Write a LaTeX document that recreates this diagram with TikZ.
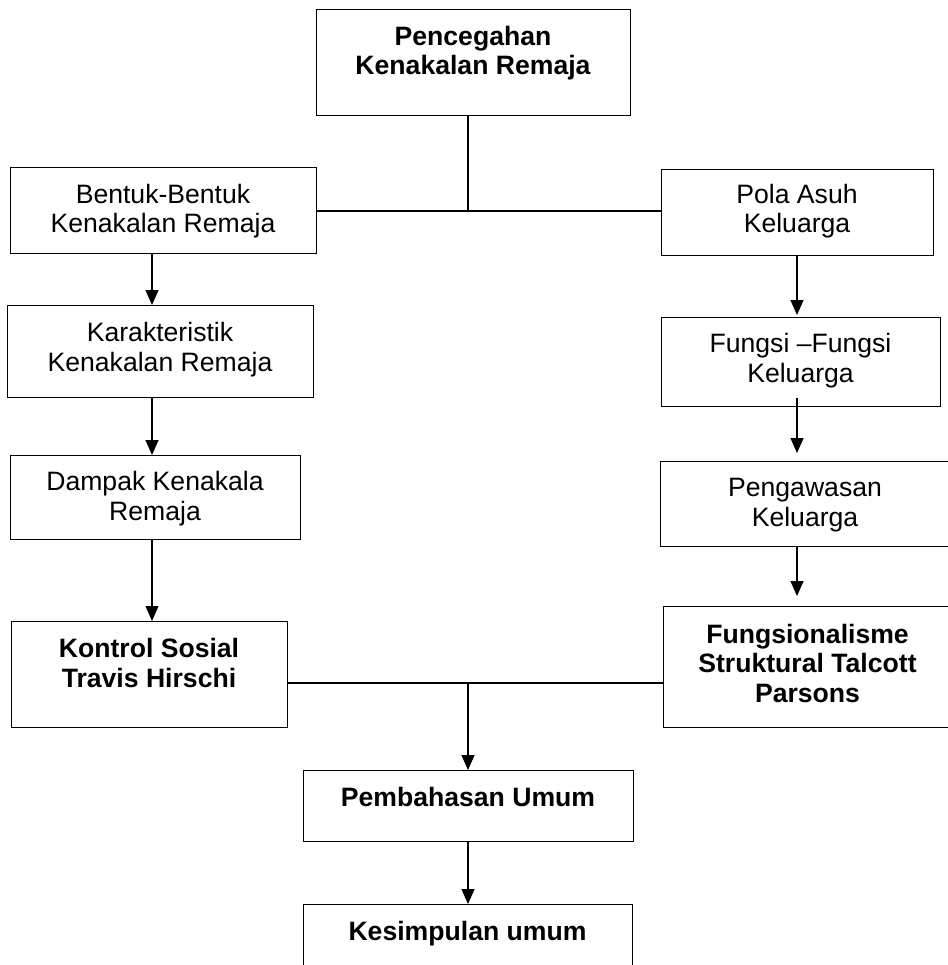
\documentclass[tikz,border=0pt]{standalone}
\usepackage{fontspec}
\setmainfont{Liberation Sans}
\usetikzlibrary{arrows.meta}
\begin{document}
\begin{tikzpicture}[x=1pt,y=-1pt,
  box/.style={draw=black, line width=1.2pt, inner sep=0pt, anchor=north west},
  txt/.style={inner sep=0pt, align=center, anchor=base, font=\fontsize{26.6}{29.5}\selectfont},
  btxt/.style={txt, font=\fontsize{26.6}{29.5}\selectfont\bfseries},
  arr/.style={line width=1.2pt, -{Triangle[length=15pt,width=13pt]}},
  ln/.style={line width=1.2pt}]
\useasboundingbox (0,0) rectangle (947,965);
% boxes
\node[box, minimum width=314pt, minimum height=106pt] (top) at (316,9) {};
\node[box, minimum width=306pt, minimum height=86pt] (b1) at (10,167) {};
\node[box, minimum width=306pt, minimum height=92pt] (b2) at (7,305) {};
\node[box, minimum width=290pt, minimum height=84pt] (b3) at (10,455) {};
\node[box, minimum width=276pt, minimum height=106pt] (b4) at (11,621) {};
\node[box, minimum width=272pt, minimum height=86pt] (r1) at (661,169) {};
\node[box, minimum width=279pt, minimum height=89pt] (r2) at (661,317) {};
\node[box, minimum width=290pt, minimum height=85pt] (r3) at (660,461) {};
\node[box, minimum width=289pt, minimum height=121pt] (r4) at (663,606) {};
\node[box, minimum width=330pt, minimum height=71pt] (pb) at (303,770) {};
\node[box, minimum width=329pt, minimum height=80pt] (ks) at (303,904) {};
% texts (anchor = baseline of the last line)
\node[btxt] (ttop) at (473,75) {Pencegahan\\Kenakalan Remaja};
\node[txt] (tb1) at (163,233) {Bentuk-Bentuk\\Kenakalan Remaja};
\node[txt] (tb2) at (160,371) {Karakteristik\\Kenakalan Remaja};
\node[txt] (tb3) at (155,520) {Dampak Kenakala\\Remaja};
\node[btxt] (tb4) at (149,687) {Kontrol Sosial\\Travis Hirschi};
\node[txt] (tr1) at (797,233) {Pola Asuh\\Keluarga};
\node[txt] (tr2) at (800.5,382) {Fungsi –Fungsi\\Keluarga};
\node[txt] (tr3) at (805,526) {Pengawasan\\Keluarga};
\node[btxt] (tr4) at (807.5,702) {Fungsionalisme\\Struktural Talcott\\Parsons};
\node[btxt] (tpb) at (468,806) {Pembahasan Umum};
\node[btxt] (tks) at (467.5,940) {Kesimpulan umum};
% connector coordinates
\coordinate (j1) at (468,211);
\coordinate (j2) at (468,683);
\coordinate (lx) at (152,0);
\coordinate (rx) at (797,0);
% connectors
\draw[ln] (top.south -| j1) -- (j1);
\draw[ln] (b1.east |- j1) -- (r1.west |- j1);
\draw[arr] (b1.south -| lx) -- (b2.north -| lx);
\draw[arr] (b2.south -| lx) -- (b3.north -| lx);
\draw[arr] (b3.south -| lx) -- (b4.north -| lx);
\draw[arr, shorten >=2pt] (r1.south -| rx) -- (r2.north -| rx);
\draw[arr, shorten >=8pt, shorten <=-9pt] (r2.south -| rx) -- (r3.north -| rx);
\draw[arr, shorten >=10pt] (r3.south -| rx) -- (r4.north -| rx);
\draw[ln] (b4.east |- j2) -- (r4.west |- j2);
\draw[arr] (j2) -- (pb.north -| j2);
\draw[arr] (pb.south -| j2) -- (ks.north -| j2);
\end{tikzpicture}
\end{document}
